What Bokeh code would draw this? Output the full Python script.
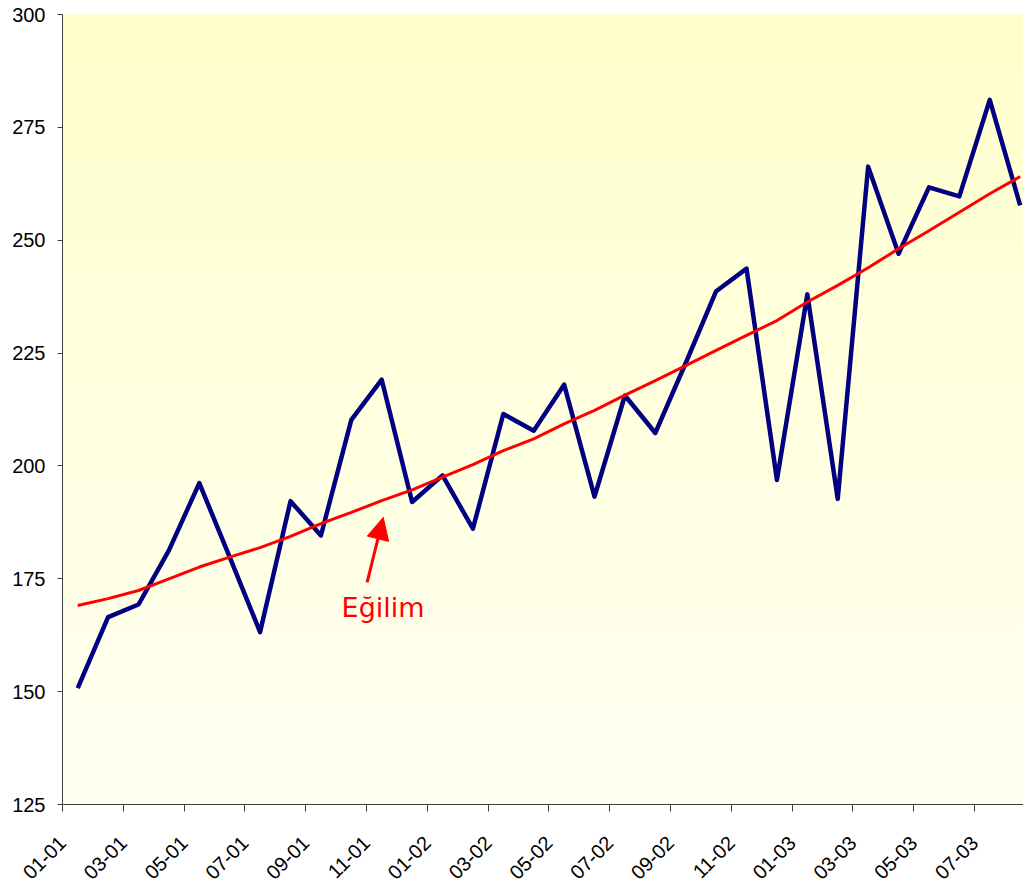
from bokeh.plotting import figure
from bokeh.models import FixedTicker, Range1d, Arrow, NormalHead, Label
from bokeh.embed import file_html
from bokeh.resources import INLINE

months = ["01-01", "02-01", "03-01", "04-01", "05-01", "06-01", "07-01", "08-01",
          "09-01", "10-01", "11-01", "12-01", "01-02", "02-02", "03-02", "04-02",
          "05-02", "06-02", "07-02", "08-02", "09-02", "10-02", "11-02", "12-02",
          "01-03", "02-03", "03-03", "04-03", "05-03", "06-03", "07-03", "08-03"]
series = [150.8, 166.5, 169.3, 181.3, 196.2, 179.8, 163.2, 192.2,
          184.6, 210.2, 219.1, 192.0, 197.9, 186.1, 211.5, 207.8,
          218.0, 193.2, 215.6, 207.3, 222.8, 238.7, 243.7, 196.9,
          238.0, 192.7, 266.3, 247.0, 261.7, 259.7, 281.1, 257.7]
trend = [169.1, 170.6, 172.4, 175.0, 177.6, 179.8, 181.9, 184.4,
         187.2, 189.7, 192.3, 194.7, 197.5, 200.3, 203.4, 206.0,
         209.3, 212.3, 215.7, 218.9, 222.2, 225.6, 228.9, 232.2,
         236.3, 240.0, 243.9, 248.1, 252.1, 256.2, 260.3, 264.1]
y_ticks = [125, 150, 175, 200, 225, 250, 275, 300]
annotation_text = "Eğilim"

Y0, Y1 = 125, 300
X1 = 31.61

p = figure(width=1023, height=890, output_backend="svg", toolbar_location=None,
           x_range=Range1d(0, X1), y_range=Range1d(Y0, Y1),
           min_border_left=62, min_border_right=0, min_border_top=14, min_border_bottom=86)
p.outline_line_color = None
p.xgrid.visible = False
p.ygrid.visible = False
p.background_fill_color = "white"
p.border_fill_color = "white"

# vertical gradient background (light yellow at top to near white at bottom)
n = 175
bottoms, tops, cols = [], [], []
for k in range(n):
    b = Y0 + (Y1 - Y0) * k / n
    t = Y0 + (Y1 - Y0) * (k + 1) / n
    f = (k + 0.5) / n
    blue = int(round(242 - (242 - 204) * f))
    bottoms.append(b)
    tops.append(t)
    cols.append("#ffff%02x" % blue)
p.quad(left=0, right=X1, bottom=bottoms, top=tops, fill_color=cols, line_color=cols, line_width=1)

xs = [i + 0.5 for i in range(len(months))]
p.line(xs, series, line_color="#000080", line_width=4.5, line_join="round")
p.line(xs, trend, line_color="#ff0000", line_width=3)

# annotation
p.add_layout(Arrow(end=NormalHead(size=22, fill_color="#ff0000", line_color="#ff0000"),
                   x_start=10.02, y_start=174.2, x_end=10.55, y_end=188.6,
                   line_color="#ff0000", line_width=3))
p.add_layout(Label(x=9.18, y=168.6, text=annotation_text, text_color="#ff0000",
                   text_font="DejaVu Sans", text_font_size="27px",
                   text_baseline="alphabetic", text_align="left"))

# axes
for ax in (p.xaxis[0], p.yaxis[0]):
    ax.axis_line_color = "#404040"
    ax.major_tick_line_color = "#404040"
    ax.minor_tick_line_color = None
    ax.major_tick_in = 0
    ax.major_label_text_font = "Liberation Sans"
    ax.major_label_text_font_size = "20px"
    ax.major_label_text_color = "black"

p.yaxis.ticker = FixedTicker(ticks=y_ticks)
p.yaxis.major_tick_out = 5
p.yaxis.major_label_standoff = 12

xt = list(range(0, len(months), 2))
p.xaxis.ticker = FixedTicker(ticks=xt)
p.xaxis.major_label_overrides = {t: months[t] for t in xt}
p.xaxis.major_tick_out = 7
p.xaxis.major_label_orientation = 0.785398
p.xaxis.major_label_standoff = 28

open("out.html", "w").write(file_html(p, INLINE))
